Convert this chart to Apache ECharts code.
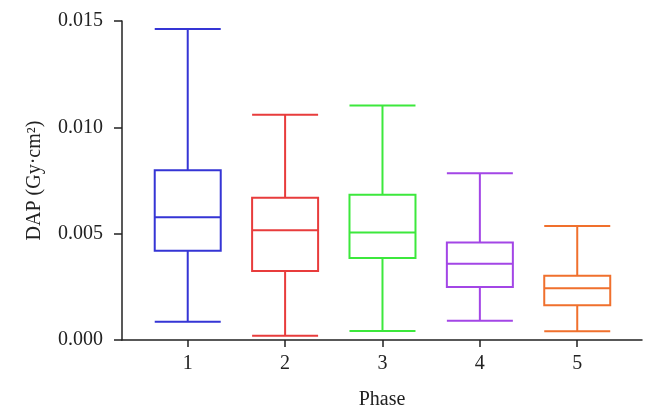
<!DOCTYPE html>
<html>
<head>
<meta charset="utf-8">
<script src="https://cdn.jsdelivr.net/npm/echarts@6/dist/echarts.min.js"></script>
<style>
  html, body { margin: 0; padding: 0; background: #fff; }
  #chart { width: 656px; height: 418px; }
</style>
</head>
<body>
<div id="chart"></div>
<script>
// Data
var phases = [1, 2, 3, 4, 5];
var minVals    = [0.00086, 0.00020, 0.00042, 0.00091, 0.00041];
var q1Vals     = [0.00420, 0.00324, 0.00386, 0.00249, 0.00163];
var medianVals = [0.00577, 0.00516, 0.00505, 0.00359, 0.00243];
var q3Vals     = [0.00798, 0.00669, 0.00683, 0.00459, 0.00302];
var maxVals    = [0.01462, 0.01059, 0.01103, 0.00784, 0.00536];
var colors = ['#3535d5', '#e83c3c', '#3ce83c', '#a346e6', '#f0702d'];

var boxData = phases.map(function (p, i) {
  return {
    value: [p, minVals[i], q1Vals[i], medianVals[i], q3Vals[i], maxVals[i]],
    itemStyle: { color: '#ffffff', borderColor: colors[i], borderWidth: 2 }
  };
});

var chart = echarts.init(document.getElementById('chart'));
chart.setOption({
  animation: false,
  backgroundColor: '#ffffff',
  grid: { left: 122, right: 14, top: 21, bottom: 78, containLabel: false },
  xAxis: {
    type: 'value',
    min: 0.325,
    max: 5.665,
    name: 'Phase',
    nameLocation: 'middle',
    nameGap: 50,
    nameTextStyle: { fontFamily: 'Liberation Serif', fontSize: 20, color: '#222' },
    axisLine: { show: true, lineStyle: { color: '#222', width: 1.5 } },
    axisTick: { show: true, length: 7, customValues: phases, lineStyle: { color: '#222', width: 1.5 } },
    axisLabel: { customValues: phases, margin: 14, fontFamily: 'Liberation Serif', fontSize: 20, color: '#222' },
    splitLine: { show: false }
  },
  yAxis: {
    type: 'value',
    min: 0,
    max: 0.015,
    interval: 0.005,
    name: 'DAP (Gy·cm²)',
    nameLocation: 'middle',
    nameGap: 77,
    nameTextStyle: { fontFamily: 'Liberation Serif', fontSize: 20, color: '#222' },
    axisLine: { show: true, lineStyle: { color: '#222', width: 1.5 } },
    axisTick: { show: true, length: 8, lineStyle: { color: '#222', width: 1.5 } },
    axisLabel: {
      margin: 19,
      fontFamily: 'Liberation Serif', fontSize: 20, color: '#222',
      formatter: function (v) { return v.toFixed(3); }
    },
    splitLine: { show: false }
  },
  series: [{
    type: 'boxplot',
    boxWidth: [66, 66],
    emphasis: { disabled: true },
    data: boxData
  }]
});
</script>
</body>
</html>
